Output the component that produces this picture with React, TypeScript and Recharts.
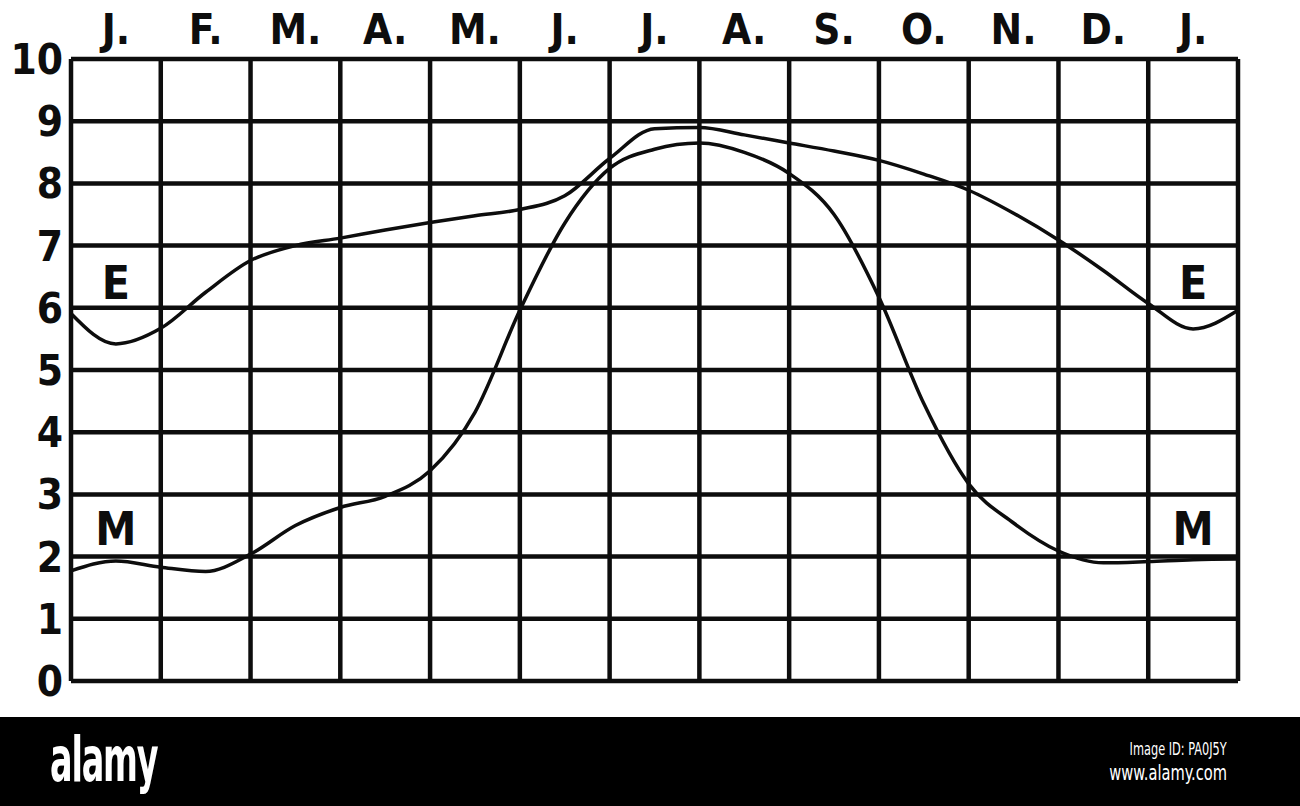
import React from 'react';
import { LineChart, Line, XAxis, YAxis, CartesianGrid, ReferenceDot } from 'recharts';

// month initials, one per column (Jan .. Jan)
const months = ['J.', 'F.', 'M.', 'A.', 'M.', 'J.', 'J.', 'A.', 'S.', 'O.', 'N.', 'D.', 'J.'];
const monthTicks = [0.5, 1.5, 2.5, 3.5, 4.5, 5.5, 6.5, 7.5, 8.5, 9.5, 10.5, 11.5, 12.5];
const gridTicks = [0, 1, 2, 3, 4, 5, 6, 7, 8, 9, 10, 11, 12, 13];
const yTicks = [0, 1, 2, 3, 4, 5, 6, 7, 8, 9, 10];

// sample positions along the year (column units)
const xs = [0, 0.5, 1, 1.5, 2, 2.5, 3, 3.5, 4, 4.5, 5, 5.5, 6, 6.5, 7, 7.5, 8, 8.5, 9, 9.5, 10, 10.5, 11, 11.5, 12, 12.5, 13];
// curve E
const eValues = [5.91, 5.42, 5.67, 6.25, 6.76, 7.0, 7.12, 7.25, 7.37, 7.48, 7.58, 7.8, 8.4, 8.88, 8.9, 8.78, 8.65, 8.52, 8.37, 8.15, 7.89, 7.52, 7.09, 6.6, 6.07, 5.66, 5.96];
// curve M
const mValues = [1.77, 1.93, 1.83, 1.76, 2.04, 2.5, 2.79, 2.97, 3.38, 4.32, 5.96, 7.36, 8.24, 8.55, 8.65, 8.5, 8.16, 7.5, 6.17, 4.46, 3.17, 2.54, 2.09, 1.9, 1.92, 1.95, 1.96];

// curve name labels
const curveLabels = [
  { x: 0.5, y: 6.4, text: 'E' },
  { x: 12.5, y: 6.4, text: 'E' },
  { x: 0.5, y: 2.45, text: 'M' },
  { x: 12.5, y: 2.45, text: 'M' },
];

const data = xs.map((x, i) => ({ x, E: eValues[i], M: mValues[i] }));

const FONT = '"Liberation Sans Narrow", "DejaVu Sans Condensed", "DejaVu Sans", sans-serif';
const INK = '#0d0d0d';

export default function App() {
  const tickStyle = { fontFamily: FONT, fontWeight: 700, fontSize: 42, fill: INK };

  return (
    <div style={{ position: 'absolute', left: 0, top: 0, width: 1300, height: 806, background: '#fff', overflow: 'hidden' }}>
      <LineChart width={1300} height={717} data={data} margin={{ top: 0, right: 0, bottom: 36, left: 0 }}>
        <XAxis
          xAxisId="g"
          dataKey="x"
          type="number"
          domain={[0, 13]}
          ticks={gridTicks}
          hide
        />
        <XAxis
          xAxisId="m"
          dataKey="x"
          type="number"
          orientation="top"
          domain={[0, 13]}
          ticks={monthTicks}
          tickFormatter={(v: number) => months[Math.floor(v)]}
          axisLine={false}
          tickLine={false}
          tickMargin={9}
          height={59}
          interval={0}
          tick={tickStyle}
        />
        <YAxis
          yAxisId="l"
          domain={[0, 10]}
          ticks={yTicks}
          width={71}
          axisLine={false}
          tickLine={false}
          interval={0}
          tick={tickStyle}
        />
        <YAxis
          yAxisId="r"
          orientation="right"
          domain={[0, 10]}
          ticks={yTicks}
          width={62}
          axisLine={false}
          tickLine={false}
          interval={0}
          tickMargin={6}
          tick={tickStyle}
        />
        <CartesianGrid xAxisId="g" yAxisId="l" stroke={INK} strokeWidth={4.5} />
        <Line
          xAxisId="g"
          yAxisId="l"
          type="monotone"
          dataKey="E"
          stroke={INK}
          strokeWidth={3.5}
          dot={false}
          isAnimationActive={false}
        />
        <Line
          xAxisId="g"
          yAxisId="l"
          type="monotone"
          dataKey="M"
          stroke={INK}
          strokeWidth={3.5}
          dot={false}
          isAnimationActive={false}
        />
        {curveLabels.map((l, i) => (
          <ReferenceDot
            key={i}
            xAxisId="g"
            yAxisId="l"
            x={l.x}
            y={l.y}
            r={0}
            fill="none"
            stroke="none"
            label={{ value: l.text, position: 'center', fontFamily: FONT, fontWeight: 700, fontSize: 46, fill: INK }}
          />
        ))}
      </LineChart>
      <div style={{ position: 'absolute', left: 0, top: 717, width: 1300, height: 89, background: '#000' }}>
        <div style={{ position: 'absolute', left: 50, top: 12, color: '#fff', fontFamily: FONT, fontWeight: 700, fontSize: 62, letterSpacing: -2, lineHeight: '62px', transform: 'scaleX(0.6)', transformOrigin: 'left top' }}>
          alamy
        </div>
        <div style={{ position: 'absolute', right: 73, top: 22, color: '#fff', fontFamily: FONT, fontSize: 18, lineHeight: '20px', transform: 'scaleX(0.7)', transformOrigin: 'right top' }}>
          Image ID: PA0J5Y
        </div>
        <div style={{ position: 'absolute', right: 73, top: 44, color: '#fff', fontFamily: FONT, fontSize: 22, lineHeight: '24px', transform: 'scaleX(0.74)', transformOrigin: 'right top' }}>
          www.alamy.com
        </div>
      </div>
    </div>
  );
}
